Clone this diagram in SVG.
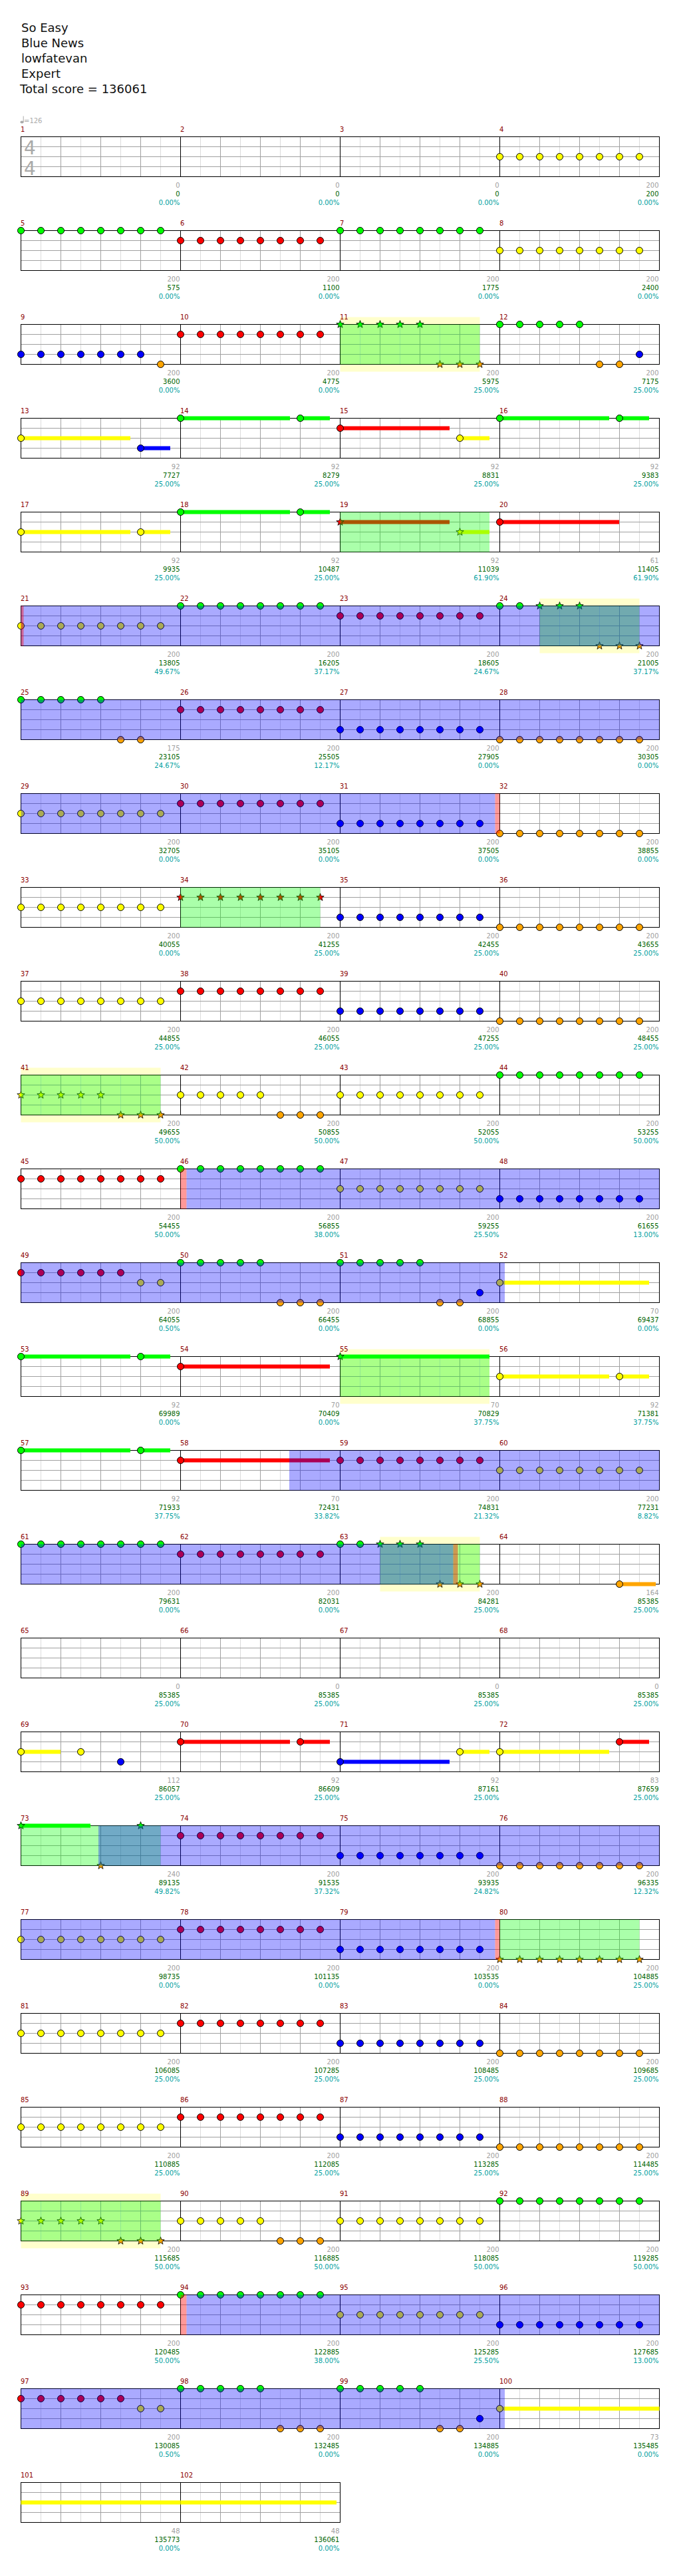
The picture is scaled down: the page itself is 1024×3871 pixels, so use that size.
<svg xmlns="http://www.w3.org/2000/svg" width="1024" height="3871" viewBox="0 0 1024 3871">
<style>
.hd{font-family:"DejaVu Sans",sans-serif;font-size:18px;fill:#111}
.mn{font-family:"DejaVu Sans",sans-serif;font-size:10px;fill:#8b0000}
.s1,.s2,.s3{font-family:"DejaVu Sans",sans-serif;font-size:10px;text-anchor:end}
.s1{fill:#a0a0a0}.s2{fill:#006400}.s3{fill:#00a0a0}
.ts{font-family:"DejaVu Sans",sans-serif;font-size:28px;fill:#aaa}
.tm{font-family:"DejaVu Sans",sans-serif;font-size:10px;fill:#aaa}
.lt{stroke:#dcdcdc;stroke-width:1;fill:none}
.gr{stroke:#a0a0a0;stroke-width:1;fill:none}
.bk{stroke:#000;stroke-width:1;fill:none}
.ovg{fill:#00ff00;fill-opacity:.333}
.ovb{fill:#0000ff;fill-opacity:.333}
.ovp{fill:#ff0000;fill-opacity:.4}
.sp{fill:#ffffcc}
.fG{fill:#00ff00}.fR{fill:#ff0000}.fY{fill:#ffff00}.fB{fill:#0000ff}.fO{fill:#ffa500}
.st{stroke:#000;stroke-width:.8}
</style>
<defs>
<g id="grid4">
<path class="lt" d="M61.5 0V60M121.5 0V60M181.5 0V60M241.5 0V60M301.5 0V60M361.5 0V60M421.5 0V60M481.5 0V60M541.5 0V60M601.5 0V60M661.5 0V60M721.5 0V60M781.5 0V60M841.5 0V60M901.5 0V60M961.5 0V60"/>
<path class="gr" d="M91.5 0V60M151.5 0V60M211.5 0V60M331.5 0V60M391.5 0V60M451.5 0V60M571.5 0V60M631.5 0V60M691.5 0V60M811.5 0V60M871.5 0V60M931.5 0V60M31.5 15H991.5M31.5 30H991.5M31.5 45H991.5"/>
<path class="bk" d="M271.5 0V60M511.5 0V60M751.5 0V60"/>
<rect class="bk" x="31.5" y="0" width="960" height="60"/>
</g>
<g id="grid2">
<path class="lt" d="M61.5 0V60M121.5 0V60M181.5 0V60M241.5 0V60M301.5 0V60M361.5 0V60M421.5 0V60M481.5 0V60"/>
<path class="gr" d="M91.5 0V60M151.5 0V60M211.5 0V60M331.5 0V60M391.5 0V60M451.5 0V60M31.5 15H511.5M31.5 30H511.5M31.5 45H511.5"/>
<path class="bk" d="M271.5 0V60"/>
<rect class="bk" x="31.5" y="0" width="480" height="60"/>
</g>
<circle id="nG" r="5" class="fG" stroke="#000"/>
<circle id="nR" r="5" cy="15" class="fR" stroke="#000"/>
<circle id="nY" r="5" cy="30" class="fY" stroke="#000"/>
<circle id="nB" r="5" cy="45" class="fB" stroke="#000"/>
<circle id="nO" r="5" cy="60" class="fO" stroke="#000"/>
<path id="star" d="M0,-6L1.47,-2.02L5.71,-1.85L2.38,0.77L3.53,4.85L0,2.5L-3.53,4.85L-2.38,0.77L-5.71,-1.85L-1.47,-2.02Z"/>
<use id="sG" href="#star" class="fG st"/>
<use id="sR" href="#star" y="15" class="fR st"/>
<use id="sY" href="#star" y="30" class="fY st"/>
<use id="sB" href="#star" y="45" class="fB st"/>
<use id="sO" href="#star" y="60" class="fO st"/>
<g id="G8"><use href="#nG"/><use href="#nG" x="30"/><use href="#nG" x="60"/><use href="#nG" x="90"/><use href="#nG" x="120"/><use href="#nG" x="150"/><use href="#nG" x="180"/><use href="#nG" x="210"/></g>
<g id="R8"><use href="#nR"/><use href="#nR" x="30"/><use href="#nR" x="60"/><use href="#nR" x="90"/><use href="#nR" x="120"/><use href="#nR" x="150"/><use href="#nR" x="180"/><use href="#nR" x="210"/></g>
<g id="Y8"><use href="#nY"/><use href="#nY" x="30"/><use href="#nY" x="60"/><use href="#nY" x="90"/><use href="#nY" x="120"/><use href="#nY" x="150"/><use href="#nY" x="180"/><use href="#nY" x="210"/></g>
<g id="B8"><use href="#nB"/><use href="#nB" x="30"/><use href="#nB" x="60"/><use href="#nB" x="90"/><use href="#nB" x="120"/><use href="#nB" x="150"/><use href="#nB" x="180"/><use href="#nB" x="210"/></g>
<g id="O8"><use href="#nO"/><use href="#nO" x="30"/><use href="#nO" x="60"/><use href="#nO" x="90"/><use href="#nO" x="120"/><use href="#nO" x="150"/><use href="#nO" x="180"/><use href="#nO" x="210"/></g>
<g id="sO8"><use href="#sO"/><use href="#sO" x="30"/><use href="#sO" x="60"/><use href="#sO" x="90"/><use href="#sO" x="120"/><use href="#sO" x="150"/><use href="#sO" x="180"/><use href="#sO" x="210"/></g>
</defs>
<rect width="1024" height="3871" fill="#fff"/>
<g id="header">
<text class="hd" x="32" y="48">So Easy</text>
<text class="hd" x="32" y="71">Blue News</text>
<text class="hd" x="32" y="94">lowfatevan</text>
<text class="hd" x="32" y="117">Expert</text>
<text class="hd" x="30" y="140">Total score = 136061</text>
</g>

<g id="row1" transform="translate(0,205.5)">
<g id="tempo"><ellipse cx="33" cy="-22" rx="2.6" ry="1.9" fill="#aaa"/><path d="M35.2 -22V-31" stroke="#aaa" stroke-width="1"/><text class="tm" x="36" y="-20.5">=126</text></g>
<use href="#grid4"/>
<text class="ts" x="36" y="26">4</text><text class="ts" x="36" y="57">4</text>
<g id="m1"><text class="mn" x="31" y="-8">1</text><text class="s1" x="270.5" y="76">0</text><text class="s2" x="270.5" y="89">0</text><text class="s3" x="270.5" y="102">0.00%</text></g>
<g id="m2"><text class="mn" x="271" y="-8">2</text><text class="s1" x="510.5" y="76">0</text><text class="s2" x="510.5" y="89">0</text><text class="s3" x="510.5" y="102">0.00%</text></g>
<g id="m3"><text class="mn" x="511" y="-8">3</text><text class="s1" x="750.5" y="76">0</text><text class="s2" x="750.5" y="89">0</text><text class="s3" x="750.5" y="102">0.00%</text></g>
<g id="m4"><text class="mn" x="751" y="-8">4</text><use href="#Y8" x="751.5"/><text class="s1" x="990.5" y="76">200</text><text class="s2" x="990.5" y="89">200</text><text class="s3" x="990.5" y="102">0.00%</text></g>
</g>

<g id="row2" transform="translate(0,346.5)">
<use href="#grid4"/>
<g id="m5"><text class="mn" x="31" y="-8">5</text><use href="#G8" x="31.5"/><text class="s1" x="270.5" y="76">200</text><text class="s2" x="270.5" y="89">575</text><text class="s3" x="270.5" y="102">0.00%</text></g>
<g id="m6"><text class="mn" x="271" y="-8">6</text><use href="#R8" x="271.5"/><text class="s1" x="510.5" y="76">200</text><text class="s2" x="510.5" y="89">1100</text><text class="s3" x="510.5" y="102">0.00%</text></g>
<g id="m7"><text class="mn" x="511" y="-8">7</text><use href="#G8" x="511.5"/><text class="s1" x="750.5" y="76">200</text><text class="s2" x="750.5" y="89">1775</text><text class="s3" x="750.5" y="102">0.00%</text></g>
<g id="m8"><text class="mn" x="751" y="-8">8</text><use href="#Y8" x="751.5"/><text class="s1" x="990.5" y="76">200</text><text class="s2" x="990.5" y="89">2400</text><text class="s3" x="990.5" y="102">0.00%</text></g>
</g>

<g id="row3" transform="translate(0,487.5)">
<rect class="sp" x="511.5" y="-11" width="210" height="82"/>
<use href="#grid4"/>
<g id="m9"><text class="mn" x="31" y="-8">9</text><use href="#nB" x="31.5"/><use href="#nB" x="61.5"/><use href="#nB" x="91.5"/><use href="#nB" x="121.5"/><use href="#nB" x="151.5"/><use href="#nB" x="181.5"/><use href="#nB" x="211.5"/><use href="#nO" x="241.5"/><text class="s1" x="270.5" y="76">200</text><text class="s2" x="270.5" y="89">3600</text><text class="s3" x="270.5" y="102">0.00%</text></g>
<g id="m10"><text class="mn" x="271" y="-8">10</text><use href="#R8" x="271.5"/><text class="s1" x="510.5" y="76">200</text><text class="s2" x="510.5" y="89">4775</text><text class="s3" x="510.5" y="102">0.00%</text></g>
<g id="m11"><text class="mn" x="511" y="-8">11</text><use href="#sG" x="511.5"/><use href="#sG" x="541.5"/><use href="#sG" x="571.5"/><use href="#sG" x="601.5"/><use href="#sG" x="631.5"/><use href="#sO" x="661.5"/><use href="#sO" x="691.5"/><use href="#sO" x="721.5"/><text class="s1" x="750.5" y="76">200</text><text class="s2" x="750.5" y="89">5975</text><text class="s3" x="750.5" y="102">25.00%</text></g>
<g id="m12"><text class="mn" x="751" y="-8">12</text><use href="#nG" x="751.5"/><use href="#nG" x="781.5"/><use href="#nG" x="811.5"/><use href="#nG" x="841.5"/><use href="#nG" x="871.5"/><use href="#nO" x="901.5"/><use href="#nO" x="931.5"/><use href="#nB" x="961.5"/><text class="s1" x="990.5" y="76">200</text><text class="s2" x="990.5" y="89">7175</text><text class="s3" x="990.5" y="102">25.00%</text></g>
<rect class="ovg" x="511.5" y="0" width="210" height="60"/>
</g>

<g id="row4" transform="translate(0,628.5)">
<use href="#grid4"/>
<g id="m13"><text class="mn" x="31" y="-8">13</text><rect class="fY" x="31.5" y="27" width="164.5" height="6"/><use href="#nY" x="31.5"/><rect class="fB" x="211.5" y="42" width="44.5" height="6"/><use href="#nB" x="211.5"/><text class="s1" x="270.5" y="76">92</text><text class="s2" x="270.5" y="89">7727</text><text class="s3" x="270.5" y="102">25.00%</text></g>
<g id="m14"><text class="mn" x="271" y="-8">14</text><rect class="fG" x="271.5" y="-3" width="164.5" height="6"/><use href="#nG" x="271.5"/><rect class="fG" x="451.5" y="-3" width="44.5" height="6"/><use href="#nG" x="451.5"/><text class="s1" x="510.5" y="76">92</text><text class="s2" x="510.5" y="89">8279</text><text class="s3" x="510.5" y="102">25.00%</text></g>
<g id="m15"><text class="mn" x="511" y="-8">15</text><rect class="fR" x="511.5" y="12" width="164.5" height="6"/><use href="#nR" x="511.5"/><rect class="fY" x="691.5" y="27" width="44.5" height="6"/><use href="#nY" x="691.5"/><text class="s1" x="750.5" y="76">92</text><text class="s2" x="750.5" y="89">8831</text><text class="s3" x="750.5" y="102">25.00%</text></g>
<g id="m16"><text class="mn" x="751" y="-8">16</text><rect class="fG" x="751.5" y="-3" width="164.5" height="6"/><use href="#nG" x="751.5"/><rect class="fG" x="931.5" y="-3" width="44.5" height="6"/><use href="#nG" x="931.5"/><text class="s1" x="990.5" y="76">92</text><text class="s2" x="990.5" y="89">9383</text><text class="s3" x="990.5" y="102">25.00%</text></g>
</g>

<g id="row5" transform="translate(0,769.5)">
<use href="#grid4"/>
<g id="m17"><text class="mn" x="31" y="-8">17</text><rect class="fY" x="31.5" y="27" width="164.5" height="6"/><use href="#nY" x="31.5"/><rect class="fY" x="211.5" y="27" width="44.5" height="6"/><use href="#nY" x="211.5"/><text class="s1" x="270.5" y="76">92</text><text class="s2" x="270.5" y="89">9935</text><text class="s3" x="270.5" y="102">25.00%</text></g>
<g id="m18"><text class="mn" x="271" y="-8">18</text><rect class="fG" x="271.5" y="-3" width="164.5" height="6"/><use href="#nG" x="271.5"/><rect class="fG" x="451.5" y="-3" width="44.5" height="6"/><use href="#nG" x="451.5"/><text class="s1" x="510.5" y="76">92</text><text class="s2" x="510.5" y="89">10487</text><text class="s3" x="510.5" y="102">25.00%</text></g>
<g id="m19"><text class="mn" x="511" y="-8">19</text><rect class="fR" x="511.5" y="12" width="164.5" height="6"/><use href="#sR" x="511.5"/><rect class="fY" x="691.5" y="27" width="44.5" height="6"/><use href="#sY" x="691.5"/><text class="s1" x="750.5" y="76">92</text><text class="s2" x="750.5" y="89">11039</text><text class="s3" x="750.5" y="102">61.90%</text></g>
<g id="m20"><text class="mn" x="751" y="-8">20</text><rect class="fR" x="751.5" y="12" width="179.5" height="6"/><use href="#nR" x="751.5"/><text class="s1" x="990.5" y="76">61</text><text class="s2" x="990.5" y="89">11405</text><text class="s3" x="990.5" y="102">61.90%</text></g>
<rect class="ovg" x="511.5" y="0" width="224.5" height="60"/>
</g>

<g id="row6" transform="translate(0,910.5)">
<rect class="sp" x="811.5" y="-11" width="150" height="82"/>
<use href="#grid4"/>
<g id="m21"><text class="mn" x="31" y="-8">21</text><use href="#Y8" x="31.5"/><text class="s1" x="270.5" y="76">200</text><text class="s2" x="270.5" y="89">13805</text><text class="s3" x="270.5" y="102">49.67%</text></g>
<g id="m22"><text class="mn" x="271" y="-8">22</text><use href="#G8" x="271.5"/><text class="s1" x="510.5" y="76">200</text><text class="s2" x="510.5" y="89">16205</text><text class="s3" x="510.5" y="102">37.17%</text></g>
<g id="m23"><text class="mn" x="511" y="-8">23</text><use href="#R8" x="511.5"/><text class="s1" x="750.5" y="76">200</text><text class="s2" x="750.5" y="89">18605</text><text class="s3" x="750.5" y="102">24.67%</text></g>
<g id="m24"><text class="mn" x="751" y="-8">24</text><use href="#nG" x="751.5"/><use href="#nG" x="781.5"/><use href="#sG" x="811.5"/><use href="#sG" x="841.5"/><use href="#sG" x="871.5"/><use href="#sO" x="901.5"/><use href="#sO" x="931.5"/><use href="#sO" x="961.5"/><text class="s1" x="990.5" y="76">200</text><text class="s2" x="990.5" y="89">21005</text><text class="s3" x="990.5" y="102">37.17%</text></g>
<rect class="ovg" x="811.5" y="0" width="150" height="60"/>
<rect class="ovb" x="31.5" y="0" width="960" height="60"/>
<rect class="ovp" x="31.5" y="0" width="4" height="60"/>
</g>

<g id="row7" transform="translate(0,1051.5)">
<use href="#grid4"/>
<g id="m25"><text class="mn" x="31" y="-8">25</text><use href="#nG" x="31.5"/><use href="#nG" x="61.5"/><use href="#nG" x="91.5"/><use href="#nG" x="121.5"/><use href="#nG" x="151.5"/><use href="#nO" x="181.5"/><use href="#nO" x="211.5"/><text class="s1" x="270.5" y="76">175</text><text class="s2" x="270.5" y="89">23105</text><text class="s3" x="270.5" y="102">24.67%</text></g>
<g id="m26"><text class="mn" x="271" y="-8">26</text><use href="#R8" x="271.5"/><text class="s1" x="510.5" y="76">200</text><text class="s2" x="510.5" y="89">25505</text><text class="s3" x="510.5" y="102">12.17%</text></g>
<g id="m27"><text class="mn" x="511" y="-8">27</text><use href="#B8" x="511.5"/><text class="s1" x="750.5" y="76">200</text><text class="s2" x="750.5" y="89">27905</text><text class="s3" x="750.5" y="102">0.00%</text></g>
<g id="m28"><text class="mn" x="751" y="-8">28</text><use href="#O8" x="751.5"/><text class="s1" x="990.5" y="76">200</text><text class="s2" x="990.5" y="89">30305</text><text class="s3" x="990.5" y="102">0.00%</text></g>
<rect class="ovb" x="31.5" y="0" width="960" height="60"/>
</g>

<g id="row8" transform="translate(0,1192.5)">
<use href="#grid4"/>
<g id="m29"><text class="mn" x="31" y="-8">29</text><use href="#Y8" x="31.5"/><text class="s1" x="270.5" y="76">200</text><text class="s2" x="270.5" y="89">32705</text><text class="s3" x="270.5" y="102">0.00%</text></g>
<g id="m30"><text class="mn" x="271" y="-8">30</text><use href="#R8" x="271.5"/><text class="s1" x="510.5" y="76">200</text><text class="s2" x="510.5" y="89">35105</text><text class="s3" x="510.5" y="102">0.00%</text></g>
<g id="m31"><text class="mn" x="511" y="-8">31</text><use href="#B8" x="511.5"/><text class="s1" x="750.5" y="76">200</text><text class="s2" x="750.5" y="89">37505</text><text class="s3" x="750.5" y="102">0.00%</text></g>
<g id="m32"><text class="mn" x="751" y="-8">32</text><use href="#O8" x="751.5"/><text class="s1" x="990.5" y="76">200</text><text class="s2" x="990.5" y="89">38855</text><text class="s3" x="990.5" y="102">0.00%</text></g>
<rect class="ovb" x="31.5" y="0" width="713" height="60"/>
<rect class="ovp" x="744.5" y="0" width="7" height="60"/>
</g>

<g id="row9" transform="translate(0,1333.5)">
<use href="#grid4"/>
<g id="m33"><text class="mn" x="31" y="-8">33</text><use href="#Y8" x="31.5"/><text class="s1" x="270.5" y="76">200</text><text class="s2" x="270.5" y="89">40055</text><text class="s3" x="270.5" y="102">0.00%</text></g>
<g id="m34"><text class="mn" x="271" y="-8">34</text><use href="#sR" x="271.5"/><use href="#sR" x="301.5"/><use href="#sR" x="331.5"/><use href="#sR" x="361.5"/><use href="#sR" x="391.5"/><use href="#sR" x="421.5"/><use href="#sR" x="451.5"/><use href="#sR" x="481.5"/><text class="s1" x="510.5" y="76">200</text><text class="s2" x="510.5" y="89">41255</text><text class="s3" x="510.5" y="102">25.00%</text></g>
<g id="m35"><text class="mn" x="511" y="-8">35</text><use href="#B8" x="511.5"/><text class="s1" x="750.5" y="76">200</text><text class="s2" x="750.5" y="89">42455</text><text class="s3" x="750.5" y="102">25.00%</text></g>
<g id="m36"><text class="mn" x="751" y="-8">36</text><use href="#O8" x="751.5"/><text class="s1" x="990.5" y="76">200</text><text class="s2" x="990.5" y="89">43655</text><text class="s3" x="990.5" y="102">25.00%</text></g>
<rect class="ovg" x="271.5" y="0" width="210" height="60"/>
</g>

<g id="row10" transform="translate(0,1474.5)">
<use href="#grid4"/>
<g id="m37"><text class="mn" x="31" y="-8">37</text><use href="#Y8" x="31.5"/><text class="s1" x="270.5" y="76">200</text><text class="s2" x="270.5" y="89">44855</text><text class="s3" x="270.5" y="102">25.00%</text></g>
<g id="m38"><text class="mn" x="271" y="-8">38</text><use href="#R8" x="271.5"/><text class="s1" x="510.5" y="76">200</text><text class="s2" x="510.5" y="89">46055</text><text class="s3" x="510.5" y="102">25.00%</text></g>
<g id="m39"><text class="mn" x="511" y="-8">39</text><use href="#B8" x="511.5"/><text class="s1" x="750.5" y="76">200</text><text class="s2" x="750.5" y="89">47255</text><text class="s3" x="750.5" y="102">25.00%</text></g>
<g id="m40"><text class="mn" x="751" y="-8">40</text><use href="#O8" x="751.5"/><text class="s1" x="990.5" y="76">200</text><text class="s2" x="990.5" y="89">48455</text><text class="s3" x="990.5" y="102">25.00%</text></g>
</g>

<g id="row11" transform="translate(0,1615.5)">
<rect class="sp" x="31.5" y="-11" width="210" height="82"/>
<use href="#grid4"/>
<g id="m41"><text class="mn" x="31" y="-8">41</text><use href="#sY" x="31.5"/><use href="#sY" x="61.5"/><use href="#sY" x="91.5"/><use href="#sY" x="121.5"/><use href="#sY" x="151.5"/><use href="#sO" x="181.5"/><use href="#sO" x="211.5"/><use href="#sO" x="241.5"/><text class="s1" x="270.5" y="76">200</text><text class="s2" x="270.5" y="89">49655</text><text class="s3" x="270.5" y="102">50.00%</text></g>
<g id="m42"><text class="mn" x="271" y="-8">42</text><use href="#nY" x="271.5"/><use href="#nY" x="301.5"/><use href="#nY" x="331.5"/><use href="#nY" x="361.5"/><use href="#nY" x="391.5"/><use href="#nO" x="421.5"/><use href="#nO" x="451.5"/><use href="#nO" x="481.5"/><text class="s1" x="510.5" y="76">200</text><text class="s2" x="510.5" y="89">50855</text><text class="s3" x="510.5" y="102">50.00%</text></g>
<g id="m43"><text class="mn" x="511" y="-8">43</text><use href="#Y8" x="511.5"/><text class="s1" x="750.5" y="76">200</text><text class="s2" x="750.5" y="89">52055</text><text class="s3" x="750.5" y="102">50.00%</text></g>
<g id="m44"><text class="mn" x="751" y="-8">44</text><use href="#G8" x="751.5"/><text class="s1" x="990.5" y="76">200</text><text class="s2" x="990.5" y="89">53255</text><text class="s3" x="990.5" y="102">50.00%</text></g>
<rect class="ovg" x="31.5" y="0" width="210" height="60"/>
</g>

<g id="row12" transform="translate(0,1756.5)">
<use href="#grid4"/>
<g id="m45"><text class="mn" x="31" y="-8">45</text><use href="#R8" x="31.5"/><text class="s1" x="270.5" y="76">200</text><text class="s2" x="270.5" y="89">54455</text><text class="s3" x="270.5" y="102">50.00%</text></g>
<g id="m46"><text class="mn" x="271" y="-8">46</text><use href="#G8" x="271.5"/><text class="s1" x="510.5" y="76">200</text><text class="s2" x="510.5" y="89">56855</text><text class="s3" x="510.5" y="102">38.00%</text></g>
<g id="m47"><text class="mn" x="511" y="-8">47</text><use href="#Y8" x="511.5"/><text class="s1" x="750.5" y="76">200</text><text class="s2" x="750.5" y="89">59255</text><text class="s3" x="750.5" y="102">25.50%</text></g>
<g id="m48"><text class="mn" x="751" y="-8">48</text><use href="#B8" x="751.5"/><text class="s1" x="990.5" y="76">200</text><text class="s2" x="990.5" y="89">61655</text><text class="s3" x="990.5" y="102">13.00%</text></g>
<rect class="ovp" x="271.5" y="0" width="9" height="60"/>
<rect class="ovb" x="280.5" y="0" width="711" height="60"/>
</g>

<g id="row13" transform="translate(0,1897.5)">
<use href="#grid4"/>
<g id="m49"><text class="mn" x="31" y="-8">49</text><use href="#nR" x="31.5"/><use href="#nR" x="61.5"/><use href="#nR" x="91.5"/><use href="#nR" x="121.5"/><use href="#nR" x="151.5"/><use href="#nR" x="181.5"/><use href="#nY" x="211.5"/><use href="#nY" x="241.5"/><text class="s1" x="270.5" y="76">200</text><text class="s2" x="270.5" y="89">64055</text><text class="s3" x="270.5" y="102">0.50%</text></g>
<g id="m50"><text class="mn" x="271" y="-8">50</text><use href="#nG" x="271.5"/><use href="#nG" x="301.5"/><use href="#nG" x="331.5"/><use href="#nG" x="361.5"/><use href="#nG" x="391.5"/><use href="#nO" x="421.5"/><use href="#nO" x="451.5"/><use href="#nO" x="481.5"/><text class="s1" x="510.5" y="76">200</text><text class="s2" x="510.5" y="89">66455</text><text class="s3" x="510.5" y="102">0.00%</text></g>
<g id="m51"><text class="mn" x="511" y="-8">51</text><use href="#nG" x="511.5"/><use href="#nG" x="541.5"/><use href="#nG" x="571.5"/><use href="#nG" x="601.5"/><use href="#nG" x="631.5"/><use href="#nO" x="661.5"/><use href="#nO" x="691.5"/><use href="#nB" x="721.5"/><text class="s1" x="750.5" y="76">200</text><text class="s2" x="750.5" y="89">68855</text><text class="s3" x="750.5" y="102">0.00%</text></g>
<g id="m52"><text class="mn" x="751" y="-8">52</text><rect class="fY" x="751.5" y="27" width="224.5" height="6"/><use href="#nY" x="751.5"/><text class="s1" x="990.5" y="76">70</text><text class="s2" x="990.5" y="89">69437</text><text class="s3" x="990.5" y="102">0.00%</text></g>
<rect class="ovb" x="31.5" y="0" width="727.5" height="60"/>
</g>

<g id="row14" transform="translate(0,2038.5)">
<rect class="sp" x="511.5" y="-11" width="224.5" height="82"/>
<use href="#grid4"/>
<g id="m53"><text class="mn" x="31" y="-8">53</text><rect class="fG" x="31.5" y="-3" width="164.5" height="6"/><use href="#nG" x="31.5"/><rect class="fG" x="211.5" y="-3" width="44.5" height="6"/><use href="#nG" x="211.5"/><text class="s1" x="270.5" y="76">92</text><text class="s2" x="270.5" y="89">69989</text><text class="s3" x="270.5" y="102">0.00%</text></g>
<g id="m54"><text class="mn" x="271" y="-8">54</text><rect class="fR" x="271.5" y="12" width="224.5" height="6"/><use href="#nR" x="271.5"/><text class="s1" x="510.5" y="76">70</text><text class="s2" x="510.5" y="89">70409</text><text class="s3" x="510.5" y="102">0.00%</text></g>
<g id="m55"><text class="mn" x="511" y="-8">55</text><rect class="fG" x="511.5" y="-3" width="224.5" height="6"/><use href="#sG" x="511.5"/><text class="s1" x="750.5" y="76">70</text><text class="s2" x="750.5" y="89">70829</text><text class="s3" x="750.5" y="102">37.75%</text></g>
<g id="m56"><text class="mn" x="751" y="-8">56</text><rect class="fY" x="751.5" y="27" width="164.5" height="6"/><use href="#nY" x="751.5"/><rect class="fY" x="931.5" y="27" width="44.5" height="6"/><use href="#nY" x="931.5"/><text class="s1" x="990.5" y="76">92</text><text class="s2" x="990.5" y="89">71381</text><text class="s3" x="990.5" y="102">37.75%</text></g>
<rect class="ovg" x="511.5" y="0" width="224.5" height="60"/>
</g>

<g id="row15" transform="translate(0,2179.5)">
<use href="#grid4"/>
<g id="m57"><text class="mn" x="31" y="-8">57</text><rect class="fG" x="31.5" y="-3" width="164.5" height="6"/><use href="#nG" x="31.5"/><rect class="fG" x="211.5" y="-3" width="44.5" height="6"/><use href="#nG" x="211.5"/><text class="s1" x="270.5" y="76">92</text><text class="s2" x="270.5" y="89">71933</text><text class="s3" x="270.5" y="102">37.75%</text></g>
<g id="m58"><text class="mn" x="271" y="-8">58</text><rect class="fR" x="271.5" y="12" width="224.5" height="6"/><use href="#nR" x="271.5"/><text class="s1" x="510.5" y="76">70</text><text class="s2" x="510.5" y="89">72431</text><text class="s3" x="510.5" y="102">33.82%</text></g>
<g id="m59"><text class="mn" x="511" y="-8">59</text><use href="#R8" x="511.5"/><text class="s1" x="750.5" y="76">200</text><text class="s2" x="750.5" y="89">74831</text><text class="s3" x="750.5" y="102">21.32%</text></g>
<g id="m60"><text class="mn" x="751" y="-8">60</text><use href="#Y8" x="751.5"/><text class="s1" x="990.5" y="76">200</text><text class="s2" x="990.5" y="89">77231</text><text class="s3" x="990.5" y="102">8.82%</text></g>
<rect class="ovb" x="435" y="0" width="556.5" height="60"/>
</g>

<g id="row16" transform="translate(0,2320.5)">
<rect class="sp" x="571.5" y="-11" width="150" height="82"/>
<use href="#grid4"/>
<g id="m61"><text class="mn" x="31" y="-8">61</text><use href="#G8" x="31.5"/><text class="s1" x="270.5" y="76">200</text><text class="s2" x="270.5" y="89">79631</text><text class="s3" x="270.5" y="102">0.00%</text></g>
<g id="m62"><text class="mn" x="271" y="-8">62</text><use href="#R8" x="271.5"/><text class="s1" x="510.5" y="76">200</text><text class="s2" x="510.5" y="89">82031</text><text class="s3" x="510.5" y="102">0.00%</text></g>
<g id="m63"><text class="mn" x="511" y="-8">63</text><use href="#nG" x="511.5"/><use href="#nG" x="541.5"/><use href="#sG" x="571.5"/><use href="#sG" x="601.5"/><use href="#sG" x="631.5"/><use href="#sO" x="661.5"/><use href="#sO" x="691.5"/><use href="#sO" x="721.5"/><text class="s1" x="750.5" y="76">200</text><text class="s2" x="750.5" y="89">84281</text><text class="s3" x="750.5" y="102">25.00%</text></g>
<g id="m64"><text class="mn" x="751" y="-8">64</text><rect class="fO" x="931.5" y="57" width="54.5" height="6"/><use href="#nO" x="931.5"/><text class="s1" x="990.5" y="76">164</text><text class="s2" x="990.5" y="89">85385</text><text class="s3" x="990.5" y="102">25.00%</text></g>
<rect class="ovg" x="571.5" y="0" width="150" height="60"/>
<rect class="ovb" x="31.5" y="0" width="650" height="60"/>
<rect class="ovp" x="681.5" y="0" width="7" height="60"/>
</g>

<g id="row17" transform="translate(0,2461.5)">
<use href="#grid4"/>
<g id="m65"><text class="mn" x="31" y="-8">65</text><text class="s1" x="270.5" y="76">0</text><text class="s2" x="270.5" y="89">85385</text><text class="s3" x="270.5" y="102">25.00%</text></g>
<g id="m66"><text class="mn" x="271" y="-8">66</text><text class="s1" x="510.5" y="76">0</text><text class="s2" x="510.5" y="89">85385</text><text class="s3" x="510.5" y="102">25.00%</text></g>
<g id="m67"><text class="mn" x="511" y="-8">67</text><text class="s1" x="750.5" y="76">0</text><text class="s2" x="750.5" y="89">85385</text><text class="s3" x="750.5" y="102">25.00%</text></g>
<g id="m68"><text class="mn" x="751" y="-8">68</text><text class="s1" x="990.5" y="76">0</text><text class="s2" x="990.5" y="89">85385</text><text class="s3" x="990.5" y="102">25.00%</text></g>
</g>

<g id="row18" transform="translate(0,2602.5)">
<use href="#grid4"/>
<g id="m69"><text class="mn" x="31" y="-8">69</text><rect class="fY" x="31.5" y="27" width="59.5" height="6"/><use href="#nY" x="31.5"/><use href="#nY" x="121.5"/><use href="#nB" x="181.5"/><text class="s1" x="270.5" y="76">112</text><text class="s2" x="270.5" y="89">86057</text><text class="s3" x="270.5" y="102">25.00%</text></g>
<g id="m70"><text class="mn" x="271" y="-8">70</text><rect class="fR" x="271.5" y="12" width="164.5" height="6"/><use href="#nR" x="271.5"/><rect class="fR" x="451.5" y="12" width="44.5" height="6"/><use href="#nR" x="451.5"/><text class="s1" x="510.5" y="76">92</text><text class="s2" x="510.5" y="89">86609</text><text class="s3" x="510.5" y="102">25.00%</text></g>
<g id="m71"><text class="mn" x="511" y="-8">71</text><rect class="fB" x="511.5" y="42" width="164.5" height="6"/><use href="#nB" x="511.5"/><rect class="fY" x="691.5" y="27" width="44.5" height="6"/><use href="#nY" x="691.5"/><text class="s1" x="750.5" y="76">92</text><text class="s2" x="750.5" y="89">87161</text><text class="s3" x="750.5" y="102">25.00%</text></g>
<g id="m72"><text class="mn" x="751" y="-8">72</text><rect class="fY" x="751.5" y="27" width="164.5" height="6"/><use href="#nY" x="751.5"/><rect class="fR" x="931.5" y="12" width="44.5" height="6"/><use href="#nR" x="931.5"/><text class="s1" x="990.5" y="76">83</text><text class="s2" x="990.5" y="89">87659</text><text class="s3" x="990.5" y="102">25.00%</text></g>
</g>

<g id="row19" transform="translate(0,2743.5)">
<use href="#grid4"/>
<g id="m73"><text class="mn" x="31" y="-8">73</text><rect class="fG" x="31.5" y="-3" width="104.5" height="6"/><use href="#sG" x="31.5"/><use href="#sO" x="151.5"/><use href="#sG" x="211.5"/><text class="s1" x="270.5" y="76">240</text><text class="s2" x="270.5" y="89">89135</text><text class="s3" x="270.5" y="102">49.82%</text></g>
<g id="m74"><text class="mn" x="271" y="-8">74</text><use href="#R8" x="271.5"/><text class="s1" x="510.5" y="76">200</text><text class="s2" x="510.5" y="89">91535</text><text class="s3" x="510.5" y="102">37.32%</text></g>
<g id="m75"><text class="mn" x="511" y="-8">75</text><use href="#B8" x="511.5"/><text class="s1" x="750.5" y="76">200</text><text class="s2" x="750.5" y="89">93935</text><text class="s3" x="750.5" y="102">24.82%</text></g>
<g id="m76"><text class="mn" x="751" y="-8">76</text><use href="#O8" x="751.5"/><text class="s1" x="990.5" y="76">200</text><text class="s2" x="990.5" y="89">96335</text><text class="s3" x="990.5" y="102">12.32%</text></g>
<rect class="ovg" x="31.5" y="0" width="210" height="60"/>
<rect class="ovb" x="148" y="0" width="843.5" height="60"/>
</g>

<g id="row20" transform="translate(0,2884.5)">
<use href="#grid4"/>
<g id="m77"><text class="mn" x="31" y="-8">77</text><use href="#Y8" x="31.5"/><text class="s1" x="270.5" y="76">200</text><text class="s2" x="270.5" y="89">98735</text><text class="s3" x="270.5" y="102">0.00%</text></g>
<g id="m78"><text class="mn" x="271" y="-8">78</text><use href="#R8" x="271.5"/><text class="s1" x="510.5" y="76">200</text><text class="s2" x="510.5" y="89">101135</text><text class="s3" x="510.5" y="102">0.00%</text></g>
<g id="m79"><text class="mn" x="511" y="-8">79</text><use href="#B8" x="511.5"/><text class="s1" x="750.5" y="76">200</text><text class="s2" x="750.5" y="89">103535</text><text class="s3" x="750.5" y="102">0.00%</text></g>
<g id="m80"><text class="mn" x="751" y="-8">80</text><use href="#sO8" x="751.5"/><text class="s1" x="990.5" y="76">200</text><text class="s2" x="990.5" y="89">104885</text><text class="s3" x="990.5" y="102">25.00%</text></g>
<rect class="ovb" x="31.5" y="0" width="713" height="60"/>
<rect class="ovp" x="744.5" y="0" width="7" height="60"/>
<rect class="ovg" x="751.5" y="0" width="210" height="60"/>
</g>

<g id="row21" transform="translate(0,3025.5)">
<use href="#grid4"/>
<g id="m81"><text class="mn" x="31" y="-8">81</text><use href="#Y8" x="31.5"/><text class="s1" x="270.5" y="76">200</text><text class="s2" x="270.5" y="89">106085</text><text class="s3" x="270.5" y="102">25.00%</text></g>
<g id="m82"><text class="mn" x="271" y="-8">82</text><use href="#R8" x="271.5"/><text class="s1" x="510.5" y="76">200</text><text class="s2" x="510.5" y="89">107285</text><text class="s3" x="510.5" y="102">25.00%</text></g>
<g id="m83"><text class="mn" x="511" y="-8">83</text><use href="#B8" x="511.5"/><text class="s1" x="750.5" y="76">200</text><text class="s2" x="750.5" y="89">108485</text><text class="s3" x="750.5" y="102">25.00%</text></g>
<g id="m84"><text class="mn" x="751" y="-8">84</text><use href="#O8" x="751.5"/><text class="s1" x="990.5" y="76">200</text><text class="s2" x="990.5" y="89">109685</text><text class="s3" x="990.5" y="102">25.00%</text></g>
</g>

<g id="row22" transform="translate(0,3166.5)">
<use href="#grid4"/>
<g id="m85"><text class="mn" x="31" y="-8">85</text><use href="#Y8" x="31.5"/><text class="s1" x="270.5" y="76">200</text><text class="s2" x="270.5" y="89">110885</text><text class="s3" x="270.5" y="102">25.00%</text></g>
<g id="m86"><text class="mn" x="271" y="-8">86</text><use href="#R8" x="271.5"/><text class="s1" x="510.5" y="76">200</text><text class="s2" x="510.5" y="89">112085</text><text class="s3" x="510.5" y="102">25.00%</text></g>
<g id="m87"><text class="mn" x="511" y="-8">87</text><use href="#B8" x="511.5"/><text class="s1" x="750.5" y="76">200</text><text class="s2" x="750.5" y="89">113285</text><text class="s3" x="750.5" y="102">25.00%</text></g>
<g id="m88"><text class="mn" x="751" y="-8">88</text><use href="#O8" x="751.5"/><text class="s1" x="990.5" y="76">200</text><text class="s2" x="990.5" y="89">114485</text><text class="s3" x="990.5" y="102">25.00%</text></g>
</g>

<g id="row23" transform="translate(0,3307.5)">
<rect class="sp" x="31.5" y="-11" width="210" height="82"/>
<use href="#grid4"/>
<g id="m89"><text class="mn" x="31" y="-8">89</text><use href="#sY" x="31.5"/><use href="#sY" x="61.5"/><use href="#sY" x="91.5"/><use href="#sY" x="121.5"/><use href="#sY" x="151.5"/><use href="#sO" x="181.5"/><use href="#sO" x="211.5"/><use href="#sO" x="241.5"/><text class="s1" x="270.5" y="76">200</text><text class="s2" x="270.5" y="89">115685</text><text class="s3" x="270.5" y="102">50.00%</text></g>
<g id="m90"><text class="mn" x="271" y="-8">90</text><use href="#nY" x="271.5"/><use href="#nY" x="301.5"/><use href="#nY" x="331.5"/><use href="#nY" x="361.5"/><use href="#nY" x="391.5"/><use href="#nO" x="421.5"/><use href="#nO" x="451.5"/><use href="#nO" x="481.5"/><text class="s1" x="510.5" y="76">200</text><text class="s2" x="510.5" y="89">116885</text><text class="s3" x="510.5" y="102">50.00%</text></g>
<g id="m91"><text class="mn" x="511" y="-8">91</text><use href="#Y8" x="511.5"/><text class="s1" x="750.5" y="76">200</text><text class="s2" x="750.5" y="89">118085</text><text class="s3" x="750.5" y="102">50.00%</text></g>
<g id="m92"><text class="mn" x="751" y="-8">92</text><use href="#G8" x="751.5"/><text class="s1" x="990.5" y="76">200</text><text class="s2" x="990.5" y="89">119285</text><text class="s3" x="990.5" y="102">50.00%</text></g>
<rect class="ovg" x="31.5" y="0" width="210" height="60"/>
</g>

<g id="row24" transform="translate(0,3448.5)">
<use href="#grid4"/>
<g id="m93"><text class="mn" x="31" y="-8">93</text><use href="#R8" x="31.5"/><text class="s1" x="270.5" y="76">200</text><text class="s2" x="270.5" y="89">120485</text><text class="s3" x="270.5" y="102">50.00%</text></g>
<g id="m94"><text class="mn" x="271" y="-8">94</text><use href="#G8" x="271.5"/><text class="s1" x="510.5" y="76">200</text><text class="s2" x="510.5" y="89">122885</text><text class="s3" x="510.5" y="102">38.00%</text></g>
<g id="m95"><text class="mn" x="511" y="-8">95</text><use href="#Y8" x="511.5"/><text class="s1" x="750.5" y="76">200</text><text class="s2" x="750.5" y="89">125285</text><text class="s3" x="750.5" y="102">25.50%</text></g>
<g id="m96"><text class="mn" x="751" y="-8">96</text><use href="#B8" x="751.5"/><text class="s1" x="990.5" y="76">200</text><text class="s2" x="990.5" y="89">127685</text><text class="s3" x="990.5" y="102">13.00%</text></g>
<rect class="ovp" x="271.5" y="0" width="9" height="60"/>
<rect class="ovb" x="280.5" y="0" width="711" height="60"/>
</g>

<g id="row25" transform="translate(0,3589.5)">
<use href="#grid4"/>
<g id="m97"><text class="mn" x="31" y="-8">97</text><use href="#nR" x="31.5"/><use href="#nR" x="61.5"/><use href="#nR" x="91.5"/><use href="#nR" x="121.5"/><use href="#nR" x="151.5"/><use href="#nR" x="181.5"/><use href="#nY" x="211.5"/><use href="#nY" x="241.5"/><text class="s1" x="270.5" y="76">200</text><text class="s2" x="270.5" y="89">130085</text><text class="s3" x="270.5" y="102">0.50%</text></g>
<g id="m98"><text class="mn" x="271" y="-8">98</text><use href="#nG" x="271.5"/><use href="#nG" x="301.5"/><use href="#nG" x="331.5"/><use href="#nG" x="361.5"/><use href="#nG" x="391.5"/><use href="#nO" x="421.5"/><use href="#nO" x="451.5"/><use href="#nO" x="481.5"/><text class="s1" x="510.5" y="76">200</text><text class="s2" x="510.5" y="89">132485</text><text class="s3" x="510.5" y="102">0.00%</text></g>
<g id="m99"><text class="mn" x="511" y="-8">99</text><use href="#nG" x="511.5"/><use href="#nG" x="541.5"/><use href="#nG" x="571.5"/><use href="#nG" x="601.5"/><use href="#nG" x="631.5"/><use href="#nO" x="661.5"/><use href="#nO" x="691.5"/><use href="#nB" x="721.5"/><text class="s1" x="750.5" y="76">200</text><text class="s2" x="750.5" y="89">134885</text><text class="s3" x="750.5" y="102">0.00%</text></g>
<g id="m100"><text class="mn" x="751" y="-8">100</text><rect class="fY" x="751.5" y="27" width="240" height="6"/><use href="#nY" x="751.5"/><text class="s1" x="990.5" y="76">73</text><text class="s2" x="990.5" y="89">135485</text><text class="s3" x="990.5" y="102">0.00%</text></g>
<rect class="ovb" x="31.5" y="0" width="727.5" height="60"/>
</g>

<g id="row26" transform="translate(0,3730.5)">
<use href="#grid2"/>
<g id="m101"><text class="mn" x="31" y="-8">101</text><rect class="fY" x="31.5" y="27" width="240" height="6"/><text class="s1" x="270.5" y="76">48</text><text class="s2" x="270.5" y="89">135773</text><text class="s3" x="270.5" y="102">0.00%</text></g>
<g id="m102"><text class="mn" x="271" y="-8">102</text><rect class="fY" x="271.5" y="27" width="234.5" height="6"/><text class="s1" x="510.5" y="76">48</text><text class="s2" x="510.5" y="89">136061</text><text class="s3" x="510.5" y="102">0.00%</text></g>
</g>
</svg>
